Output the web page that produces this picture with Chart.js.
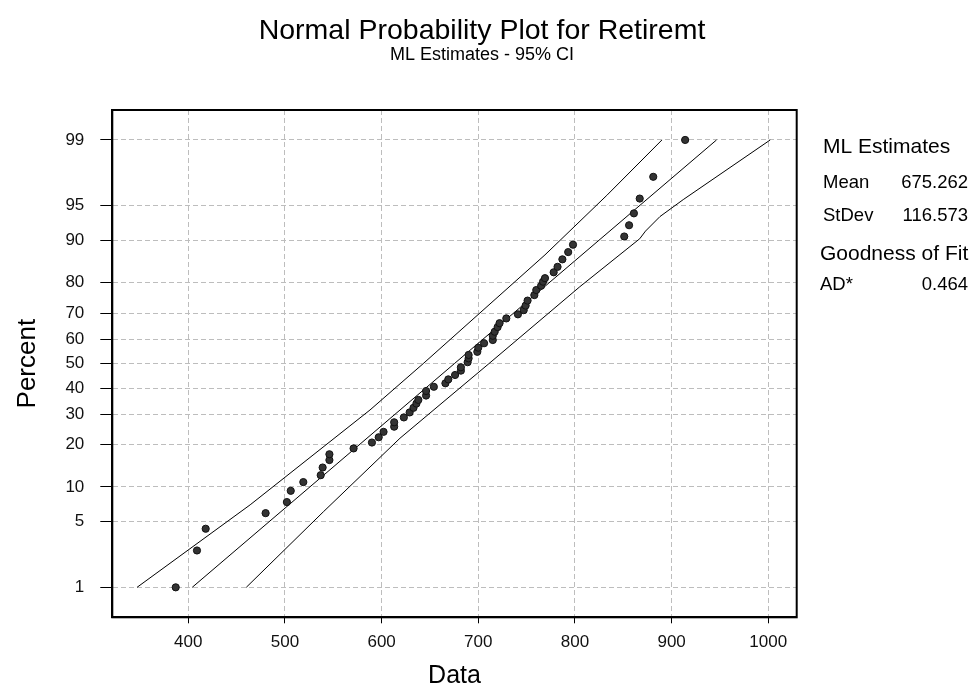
<!DOCTYPE html>
<html>
<head>
<meta charset="utf-8">
<title>Normal Probability Plot for Retiremt</title>
<script src="https://cdn.jsdelivr.net/npm/chart.js@4.4.1/dist/chart.umd.min.js"></script>
<style>
  html, body { margin: 0; padding: 0; background: #fff; }
</style>
</head>
<body>
<canvas id="probplot" width="974" height="688"></canvas>
<script>
// sorted observations and the percent each one is plotted at
const retiremt = [387, 409, 418, 480, 502, 506, 519, 537, 539, 546,
                  546, 571, 590, 597, 602, 613, 613, 623, 629, 633,
                  636, 638, 646, 646, 654, 666, 669, 676, 682, 682,
                  689, 690, 690, 699, 700, 706, 715, 715, 717, 720,
                  722, 729, 741, 747, 749, 751, 758, 760, 765, 767,
                  769, 778, 782, 787, 793, 798, 851, 856, 861, 867,
                  881, 914];
const percents = [1.0, 2.6, 4.3, 6.0, 7.5, 9.3, 10.9, 12.3, 14.0, 15.8,
                  17.3, 18.9, 20.6, 22.2, 23.9, 25.6, 27.1, 28.8, 30.6, 32.3,
                  33.9, 35.3, 37.0, 38.8, 40.5, 41.9, 43.5, 45.3, 47.1, 48.5,
                  50.6, 52.2, 53.6, 54.9, 56.6, 58.4, 59.7, 61.4, 63.0, 64.8,
                  66.3, 68.1, 69.6, 71.1, 72.7, 74.4, 76.2, 77.8, 79.1, 80.3,
                  81.3, 82.9, 84.3, 86.1, 87.7, 89.2, 90.7, 92.5, 94.1, 95.7,
                  97.4, 99.0];

// 95% confidence bands (left and right of the fitted line)
const upperBandX   = [347, 464, 588, 643, 769, 798, 833, 890];
const upperBandPct = [1, 7.1, 31.5, 50, 87.1, 92.1, 96.0, 99];
const lowerBandX   = [460, 540, 619, 711, 805, 867, 873, 888, 912, 1002];
const lowerBandPct = [1, 6.2, 21.9, 50, 78.8, 90.3, 91.6, 93.7, 95.6, 99];

// ML estimates and goodness of fit
const estMean = 675.262;
const estStDev = 116.573;
const adStar = 0.464;
const fitPct = [1, 99];

const xTicks = [400, 500, 600, 700, 800, 900, 1000];
const yTicks = [1, 5, 10, 20, 30, 40, 50, 60, 70, 80, 90, 95, 99];

const X_MIN = 321.4, X_MAX = 1029.4;
const Z_LIMIT = 2.638;
const FONT = '"Liberation Sans", Arial, sans-serif';

// inverse standard normal cdf (Acklam's rational approximation)
function probit(p) {
  const a = [-3.969683028665376e+01, 2.209460984245205e+02, -2.759285104469687e+02, 1.383577518672690e+02, -3.066479806614716e+01, 2.506628277459239e+00];
  const b = [-5.447609879822406e+01, 1.615858368580409e+02, -1.556989798598866e+02, 6.680131188771972e+01, -1.328068155288572e+01];
  const c = [-7.784894002430293e-03, -3.223964580411365e-01, -2.400758277161838e+00, -2.549732539343734e+00, 4.374664141464968e+00, 2.938163982698783e+00];
  const d = [7.784695709041462e-03, 3.224671290700398e-01, 2.445134137142996e+00, 3.754408661907416e+00];
  const plow = 0.02425;
  if (p < plow) {
    const q = Math.sqrt(-2 * Math.log(p));
    return (((((c[0]*q + c[1])*q + c[2])*q + c[3])*q + c[4])*q + c[5]) / ((((d[0]*q + d[1])*q + d[2])*q + d[3])*q + 1);
  }
  if (p > 1 - plow) {
    const q = Math.sqrt(-2 * Math.log(1 - p));
    return -(((((c[0]*q + c[1])*q + c[2])*q + c[3])*q + c[4])*q + c[5]) / ((((d[0]*q + d[1])*q + d[2])*q + d[3])*q + 1);
  }
  const q = p - 0.5, r = q * q;
  return (((((a[0]*r + a[1])*r + a[2])*r + a[3])*r + a[4])*r + a[5])*q / (((((b[0]*r + b[1])*r + b[2])*r + b[3])*r + b[4])*r + 1);
}

const toZ = (pct) => probit(pct / 100);
const pairs = (xs, pcts) => xs.map((x, i) => ({ x: x, y: toZ(pcts[i]) }));

const lineStyle = {
  showLine: true, fill: false, borderColor: '#000', borderWidth: 1,
  pointRadius: 0, pointHoverRadius: 0, tension: 0
};

// frame round the plot plus the estimates table at the right
const notesPlugin = {
  id: 'notes',
  afterDraw(chart) {
    const { ctx, chartArea: a } = chart;
    ctx.save();
    ctx.strokeStyle = '#000';
    ctx.lineWidth = 2;
    ctx.strokeRect(a.left, a.top, a.right - a.left, a.bottom - a.top);

    ctx.fillStyle = '#000';
    ctx.textBaseline = 'middle';
    ctx.textAlign = 'left';
    ctx.font = '21px ' + FONT;
    ctx.fillText('ML Estimates', 823, 147);
    ctx.fillText('Goodness of Fit', 820, 254);

    ctx.font = '18.5px ' + FONT;
    ctx.fillText('Mean', 823, 183);
    ctx.fillText('StDev', 823, 216);
    ctx.fillText('AD*', 820, 285);
    ctx.textAlign = 'right';
    ctx.fillText(estMean.toFixed(3), 968, 183);
    ctx.fillText(estStDev.toFixed(3), 968, 216);
    ctx.fillText(adStar.toFixed(3), 968, 285);
    ctx.restore();
  }
};

Chart.defaults.font.family = FONT;
Chart.defaults.color = '#111';

new Chart(document.getElementById('probplot').getContext('2d'), {
  type: 'scatter',
  data: {
    datasets: [
      {
        data: pairs(retiremt, percents),
        pointRadius: 3.6,
        pointHoverRadius: 3.6,
        backgroundColor: '#333',
        borderColor: '#111',
        borderWidth: 1
      },
      Object.assign({ data: pairs(fitPct.map((p) => estMean + estStDev * toZ(p)), fitPct) }, lineStyle),
      Object.assign({ data: pairs(upperBandX, upperBandPct) }, lineStyle),
      Object.assign({ data: pairs(lowerBandX, lowerBandPct) }, lineStyle)
    ]
  },
  options: {
    responsive: false,
    animation: false,
    events: [],
    layout: { padding: { left: 0, right: 10, top: 0, bottom: 0 } },
    plugins: {
      legend: { display: false },
      tooltip: { enabled: false },
      title: {
        display: true,
        text: 'Normal Probability Plot for Retiremt',
        color: '#000',
        font: { size: 28.5, weight: 'normal', lineHeight: 1 },
        padding: { top: 17, bottom: 0 }
      },
      subtitle: {
        display: true,
        text: 'ML Estimates - 95% CI',
        color: '#000',
        font: { size: 18, lineHeight: 1 },
        padding: { top: 1, bottom: 45.5 }
      }
    },
    scales: {
      x: {
        type: 'linear',
        min: X_MIN,
        max: X_MAX,
        afterBuildTicks: (scale) => { scale.ticks = xTicks.map((v) => ({ value: v })); },
        afterFit: (scale) => { scale.height = 70.7; },
        ticks: {
          autoSkip: false, maxRotation: 0, padding: 9,
          font: { size: 17 }, color: '#111',
          callback: (value) => String(value)
        },
        grid: {
          color: '#bdbdbd', lineWidth: 1,
          tickColor: '#000', tickLength: 6, tickWidth: 1, tickBorderDash: []
        },
        border: { display: true, color: '#000', width: 2, dash: [5, 3] },
        title: {
          display: true, text: 'Data', color: '#000',
          font: { size: 25, lineHeight: 1 },
          padding: { top: 0, bottom: -1 }
        }
      },
      y: {
        type: 'linear',
        min: -Z_LIMIT,
        max: Z_LIMIT,
        afterBuildTicks: (scale) => { scale.ticks = yTicks.map((p) => ({ value: toZ(p) })); },
        afterFit: (scale) => { scale.width = 112.3; },
        ticks: {
          autoSkip: false, padding: 16,
          font: { size: 17 }, color: '#111',
          callback: (value, index) => String(yTicks[index])
        },
        grid: {
          color: '#bdbdbd', lineWidth: 1,
          tickColor: '#000', tickLength: 12, tickWidth: 1, tickBorderDash: []
        },
        border: { display: true, color: '#000', width: 2, dash: [5, 3] },
        title: {
          display: true, text: 'Percent', color: '#000',
          font: { size: 26, lineHeight: 1 },
          padding: { top: 15, bottom: 0 }
        }
      },
      // keeps the right-hand margin free for the estimates table
      side: {
        type: 'linear',
        position: 'right',
        grid: { display: false },
        border: { display: false },
        ticks: { display: false },
        afterFit: (scale) => { scale.width = 167.3; }
      }
    }
  },
  plugins: [notesPlugin]
});
</script>
</body>
</html>
